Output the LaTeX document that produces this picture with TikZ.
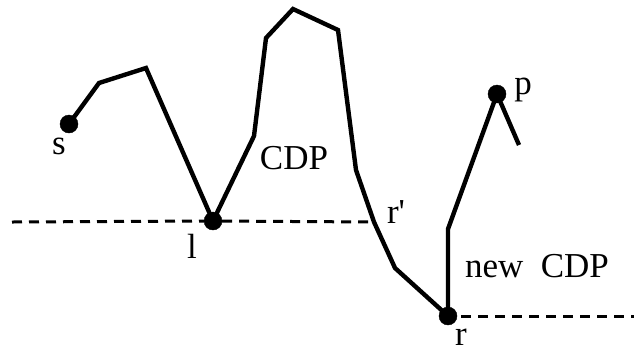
\documentclass[tikz,border=0pt]{standalone}
\usepackage{fontspec}
\setmainfont{Liberation Serif}
\begin{document}
\begin{tikzpicture}[
        x=1pt, y=-1pt,
        dot/.style={draw, circle, fill=black, inner sep=0pt, minimum size=18pt},
        lbl/.style={inner sep=0pt, font=\fontsize{35}{40}\selectfont},
        path/.style={line width=4.4pt, line join=miter},
        level/.style={line width=3pt, dash pattern=on 10pt off 7pt}
    ]
        \useasboundingbox (0,0) rectangle (634,360);

        % Označene točke
        \node[dot] (s) at (69, 124) {};
        \node[dot] (l) at (213, 221) {};
        \node[dot] (r) at (448, 316) {};
        \node[dot] (p) at (497, 94) {};

        % Vmesni vogali poti
        \coordinate (a1) at (99, 83);
        \coordinate (a2) at (146, 68);
        \coordinate (b1) at (254, 136);
        \coordinate (b2) at (266, 38);
        \coordinate (b3) at (293, 9);
        \coordinate (b4) at (338, 30);
        \coordinate (b5) at (356, 170);
        \coordinate (rp) at (374, 222);
        \coordinate (b6) at (395, 268);
        \coordinate (c1) at (448, 229);
        \coordinate (pe) at (519, 145);

        % Konca črtkanih premic
        \coordinate (dl) at (12, 222);
        \coordinate (dr) at (634, 316);

        % --- POT ---
        \draw[path] (s.center) -- (a1) -- (a2) -- (l.center) -- (b1) -- (b2) -- (b3)
            -- (b4) -- (b5) -- (rp) -- (b6) -- (r.center) -- (c1) -- (p.center) -- (pe);

        % --- NIVOJA ---
        \draw[level] (dl) -- (l);
        \draw[level] (l) -- (rp);
        \draw[level, shorten <=4pt] (r) -- (dr);

        % Oznake
        \node[lbl] (ls) at (59, 146) {s};
        \node[lbl] (ll) at (192, 246) {l};
        \node[lbl] (lr) at (461, 337) {r};
        \node[lbl] (lp) at (523, 90) {p};
        \node[lbl] (lrp) at (396, 212) {r\textquotesingle};
        \node[lbl] (lcdp) at (294, 158) {CDP};
        \node[lbl] (lncdp) at (537, 266) {new\ \ CDP};
    \end{tikzpicture}
\end{document}
